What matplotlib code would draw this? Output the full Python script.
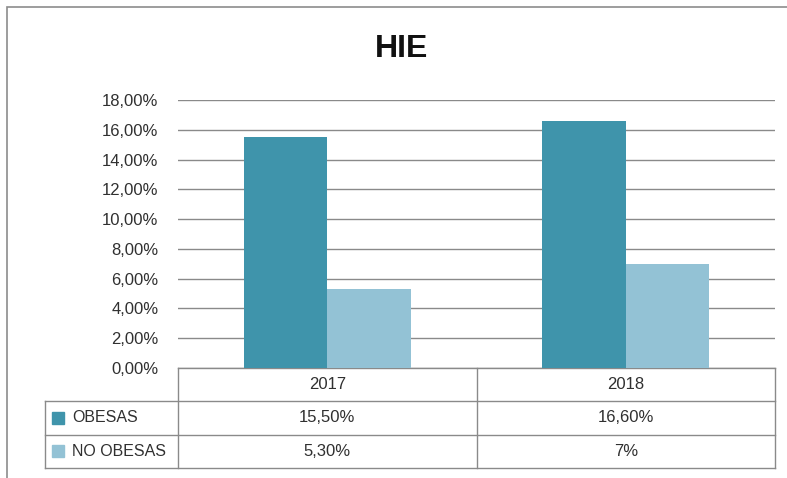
import numpy as np
import matplotlib.pyplot as plt
from matplotlib.patches import Rectangle
from matplotlib.transforms import blended_transform_factory

# datos
years = ['2017', '2018']
series = ['OBESAS', 'NO OBESAS']
obesas = [15.5, 16.6]
no_obesas = [5.3, 7.0]
labels_obesas = ['15,50%', '16,60%']
labels_no_obesas = ['5,30%', '7%']
colors = ['#3F94AB', '#93C2D5']

plt.rcParams['font.family'] = ['Liberation Sans', 'DejaVu Sans']

W, H = 787, 478
fig = plt.figure(figsize=(W / 100, H / 100), dpi=100)

# marco exterior del grafico
fig.patches.append(Rectangle((7 / W, -0.05), 1.0, 1 - 7 / H + 0.05, transform=fig.transFigure,
                             fill=False, ec='#8C8C8C', lw=1.2))

fig.text(402 / W, 1 - 49 / H, 'HIE', ha='center', va='center', fontsize=23,
         fontweight='bold', color='#111111')

ax = fig.add_axes([178 / W, 1 - 368 / H, (775 - 178) / W, (368 - 100) / H])
x = np.arange(len(years))
bw = 0.28
ax.bar(x - bw / 2, obesas, bw, color=colors[0], zorder=3)
ax.bar(x + bw / 2, no_obesas, bw, color=colors[1], zorder=3)

ax.set_xlim(-0.5, len(years) - 0.5)
ax.set_ylim(0, 18)
ticks = np.arange(0, 19, 2)
ax.set_yticks(ticks)
ax.set_yticklabels(['%d,00%%' % t for t in ticks], fontsize=12, color='#303030')
ax.tick_params(axis='y', length=0, pad=14)
ax.set_xticks([])
ax.grid(axis='y', color='#8A8A8A', lw=1, zorder=0)
for s in ['top', 'right', 'left', 'bottom']:
    ax.spines[s].set_visible(False)

# tabla de datos debajo del eje
tr = blended_transform_factory(ax.transAxes, ax.transAxes)
rowh = 33.3 / 268
x0 = (45 - 178) / 597
lc = '#8A8A8A'
kw = dict(transform=tr, clip_on=False, color=lc, lw=1)
ax.plot([0, 1], [0, 0], **kw)
for i in range(1, 4):
    ax.plot([x0, 1], [-i * rowh, -i * rowh], **kw)
ax.plot([x0, x0], [-rowh, -3 * rowh], **kw)
for xf in [0, 0.5, 1]:
    ax.plot([xf, xf], [0, -3 * rowh], **kw)

rows = [labels_obesas, labels_no_obesas]
tc = '#303030'
for j, yr in enumerate(years):
    xf = (j + 0.5) / len(years)
    ax.text(xf, -0.5 * rowh, yr, transform=tr, ha='center', va='center', fontsize=12, color=tc)
    for i, r in enumerate(rows):
        ax.text(xf, -(i + 1.5) * rowh, r[j], transform=tr, ha='center', va='center',
                fontsize=12, color=tc)

sq = 12
for i, (name, c) in enumerate(zip(series, colors)):
    yc = -(i + 1.5) * rowh
    ax.add_patch(Rectangle((x0 + 7 / 597, yc - sq / 2 / 268), sq / 597, sq / 268,
                           transform=tr, clip_on=False, color=c))
    ax.text(x0 + 27 / 597, yc, name, transform=tr, ha='left', va='center',
            fontsize=11.5, color=tc)

fig.savefig('out.png', dpi=100)
